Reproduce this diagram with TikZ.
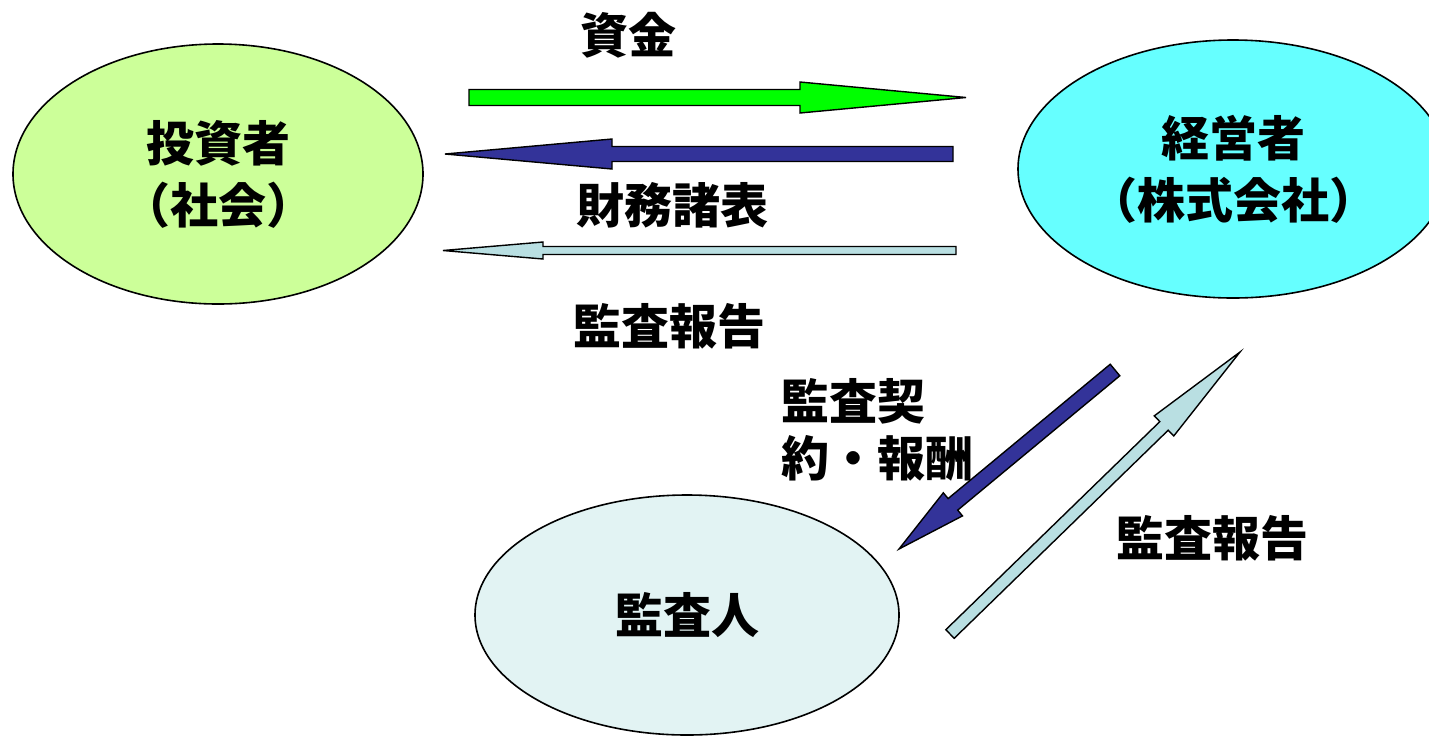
\documentclass[tikz,border=0pt]{standalone}
\usepackage{fontspec}
\newfontfamily\cjk{Noto Sans CJK JP}
\usepackage{xcolor}
\usepackage{tikz}
\usetikzlibrary{calc,shapes.geometric}

\definecolor{investorfill}{RGB}{204,255,153}
\definecolor{managerfill}{RGB}{102,255,255}
\definecolor{auditorfill}{RGB}{226,243,243}
\definecolor{fundgreen}{RGB}{0,255,0}
\definecolor{darkblue}{RGB}{51,51,153}
\definecolor{paleblue}{RGB}{185,223,226}

% block arrow: style, tail, tip, shaft half width, head half width, head length
\newcommand\blockarrow[6]{%
  \draw[#1] let \p1=($(#3)-(#2)$), \n1={atan2(\y1,\x1)} in
    ($(#2)+(\n1+90:#4)$)
    -- ($(#3)+(\n1+180:#6)+(\n1+90:#4)$)
    -- ($(#3)+(\n1+180:#6)+(\n1+90:#5)$)
    -- (#3)
    -- ($(#3)+(\n1+180:#6)+(\n1-90:#5)$)
    -- ($(#3)+(\n1+180:#6)+(\n1-90:#4)$)
    -- ($(#2)+(\n1-90:#4)$) -- cycle;}

\begin{document}
\begin{tikzpicture}[x=0.5pt,y=-0.5pt,
    jp/.style={font=\cjk\bfseries\fontsize{24pt}{31pt}\selectfont, inner sep=0pt},
    party/.style={jp, ellipse, draw, line width=0.8pt, align=center},
    flow/.style={draw=black, line width=0.7pt, line join=miter}]
        \useasboundingbox (0,0) rectangle (1429,735);
        \clip (0,0) rectangle (1429,735);

        % parties
        \node [party, fill=investorfill, minimum width=205pt, minimum height=130pt] (investor) at (218,174) {投資者\\（社会）};
        \node [party, fill=managerfill, minimum width=215pt, minimum height=129pt] (manager) at (1233,169) {経営者\\（株式会社）};
        \node [party, fill=auditorfill, minimum width=212pt, minimum height=120pt] (auditor) at (687,615) {監査人};

        % arrow ends
        \coordinate (fundtail) at (469,97.5);
        \coordinate (fundtip) at (966,97.5);
        \coordinate (fstail) at (953,154);
        \coordinate (fstip) at (445,154);
        \coordinate (reptail) at (956,250.5);
        \coordinate (reptip) at (443,250.5);
        \coordinate (feetail) at (1115,370);
        \coordinate (feetip) at (899,549);
        \coordinate (audtail) at (950,634);
        \coordinate (audtip) at (1240,352);

        \blockarrow{flow, fill=fundgreen}{fundtail}{fundtip}{4pt}{7.75pt}{83pt}
        \blockarrow{flow, fill=darkblue}{fstail}{fstip}{3.75pt}{7.5pt}{83.5pt}
        \blockarrow{flow, fill=paleblue}{reptail}{reptip}{2pt}{4.25pt}{50pt}
        \blockarrow{flow, fill=darkblue}{feetail}{feetip}{3.75pt}{7.5pt}{35pt}
        \blockarrow{flow, fill=paleblue}{audtail}{audtip}{3pt}{7pt}{53pt}

        % labels
        \node [jp] (fund) at (628,35) {資金};
        \node [jp] (fs) at (672,205) {財務諸表};
        \node [jp] (report) at (669,326) {監査報告};
        \node [jp, align=left, anchor=west, font=\cjk\bfseries\fontsize{24pt}{28.5pt}\selectfont] (fee) at (781,430) {監査契\\約・報酬};
        \node [jp] (auditreport) at (1212,538) {監査報告};
\end{tikzpicture}
\end{document}
